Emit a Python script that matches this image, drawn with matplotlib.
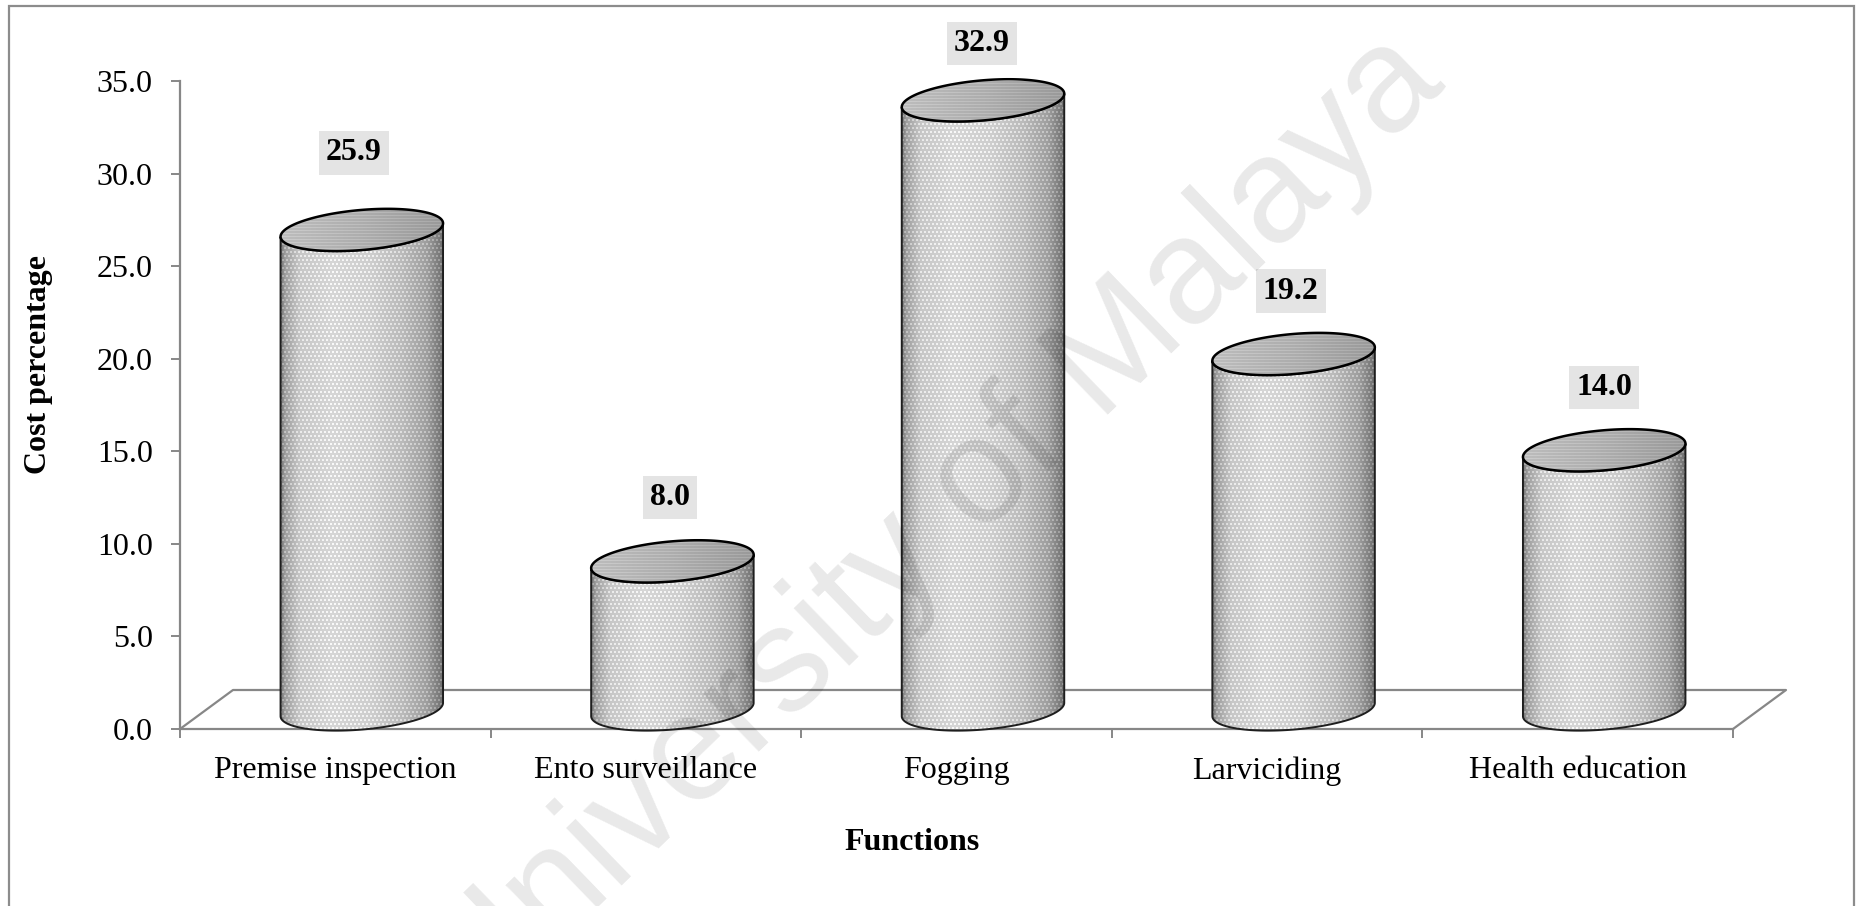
import numpy as np
import matplotlib
matplotlib.use("Agg")
import matplotlib.pyplot as plt
from matplotlib.patches import Polygon, Rectangle
from matplotlib.lines import Line2D
from matplotlib.transforms import IdentityTransform
from matplotlib.ticker import FormatStrFormatter

# ---- data -------------------------------------------------------------
categories = ["Premise inspection", "Ento surveillance", "Fogging",
              "Larviciding", "Health education"]
cost_pct = [25.9, 8.0, 32.9, 19.2, 14.0]
y_ticks = [0.0, 5.0, 10.0, 15.0, 20.0, 25.0, 30.0, 35.0]
y_title = "Cost percentage"
x_title = "Functions"
watermark = "University of Malaya"

# ---- layout / style ---------------------------------------------------
W, H, DPI = 1857, 906, 100
DEPTH = (53.0, 39.0)          # floor depth offset in pixels
BAR_WIDTH = 0.525             # cylinder diameter in category units
CAP_B = 20.0                  # half-height of the elliptical caps (px)
TILT = np.deg2rad(5.0)        # perspective tilt of the caps
LABEL_LIFT = [77, 64, 57, 63, 63]   # px above cap centre
LABEL_SHIFT = [-8, -2, -1, -3, 0]   # px horizontal nudge
GRAY = "#878787"
FS = 23

plt.rcParams["font.family"] = ["Liberation Serif", "DejaVu Serif"]

fig = plt.figure(figsize=(W / DPI, H / DPI), dpi=DPI)
ax = fig.add_axes([180 / W, (H - 729) / H, (1733 - 180) / W, (729 - 81) / H])
n = len(categories)
ax.set_xlim(-0.5, n - 0.5)
ax.set_ylim(0, 35)
ax.patch.set_visible(False)
for s in ("top", "right"):
    ax.spines[s].set_visible(False)
for s in ("left", "bottom"):
    ax.spines[s].set_color(GRAY)
    ax.spines[s].set_linewidth(1.6)

ax.set_yticks(y_ticks)
ax.yaxis.set_major_formatter(FormatStrFormatter("%.1f"))
ax.tick_params(axis="y", length=6.5, width=1.4, color=GRAY, pad=13,
               labelsize=FS)
ax.set_xticks(range(n))
ax.set_xticklabels(categories)
ax.set_xticks(np.arange(-0.5, n), minor=True)
ax.tick_params(axis="x", which="major", length=0, pad=19.5, labelsize=FS)
ax.tick_params(axis="x", which="minor", length=6.5, width=1.4, color=GRAY)

ID = IdentityTransform()


def px(x, y, depth=0.0):
    X, Y = ax.transData.transform((x, y))
    return X + depth * DEPTH[0], Y + depth * DEPTH[1]


# ---- floor outline ----------------------------------------------------
x0, x1 = ax.get_xlim()
floor = [px(x0, 0), px(x0, 0, 1), px(x1, 0, 1), px(x1, 0)]
ax.add_line(Line2D([p[0] for p in floor], [p[1] for p in floor],
                   transform=ID, color=GRAY, lw=1.6, clip_on=False,
                   zorder=1))

# ---- cylinders ---------------------------------------------------------
T = np.linspace(0, 2 * np.pi, 720, endpoint=False)


def ellipse(cx, cy, a):
    ex, ey = a * np.cos(T), CAP_B * np.sin(T)
    return (cx + ex * np.cos(TILT) - ey * np.sin(TILT),
            cy + ex * np.sin(TILT) + ey * np.cos(TILT))


def front_arc(ex, ey):
    il, ir = int(np.argmin(ex)), int(np.argmax(ex))
    k = (ir - il) % len(ex)
    idx = (np.arange(k + 1) + il) % len(ex)
    return ex[idx], ey[idx]


def shaded(xl, xr, yb, yt, cx, half, knots_u, knots_g, kind):
    cols = np.arange(int(np.floor(xl)), int(np.ceil(xr)))
    rows = np.arange(int(np.floor(yb)), int(np.ceil(yt)))[::-1]
    u = np.clip((cols + 0.5 - (cx - half)) / (2 * half), 0, 1)
    base = np.interp(u, knots_u, knots_g)[None, :]
    r = (H - rows)[:, None]
    c = cols[None, :]
    if kind == "body":
        dot = ((r % 4) < 2) & (((c + 2 * ((r // 4) % 2)) % 4) < 2)
        val = base + np.where(dot, 0.12, -0.02)
    else:
        val = base + np.where((r % 3) == 0, 0.06, 0.0) + 0 * c
    val = np.clip(val, 0, 1)
    rgb = np.dstack([val] * 3)
    return rgb, (cols[0], cols[-1] + 1, rows[-1], rows[0] + 1)


BODY_U = [0.0, 0.03, 0.12, 0.32, 0.55, 0.75, 0.90, 1.0]
BODY_G = [0.45, 0.64, 0.80, 0.86, 0.83, 0.75, 0.64, 0.45]
TOP_U = [0.0, 0.5, 1.0]
TOP_G = [0.74, 0.68, 0.60]

for i, v in enumerate(cost_pct):
    cxp, yb = px(i, 0, 0.5)
    _, yt = px(i, v, 0.5)
    half = px(i + BAR_WIDTH / 2, 0)[0] - px(i, 0)[0]

    bx, by = ellipse(cxp, yb, half)
    tx, ty = ellipse(cxp, yt, half)
    tfx, tfy = front_arc(tx, ty)
    bfx, bfy = front_arc(bx, by)
    body_xy = np.column_stack([np.r_[tfx, bfx[::-1]], np.r_[tfy, bfy[::-1]]])
    body = Polygon(body_xy, closed=True, transform=ID, facecolor="none",
                   edgecolor="#1e1e1e", lw=1.4, clip_on=False, zorder=4)
    ax.add_patch(body)

    rgb, ext = shaded(tx.min() - 1, tx.max() + 1, by.min() - 1, ty.max() + 1,
                      cxp, half, BODY_U, BODY_G, "body")
    im = ax.imshow(rgb, extent=ext, origin="upper", transform=ID,
                   interpolation="nearest", aspect="auto", zorder=3)
    im.set_clip_path(body)
    im.set_clip_box(None)

    cap = Polygon(np.column_stack([tx, ty]), closed=True, transform=ID,
                  facecolor="none", edgecolor="black", lw=1.8,
                  clip_on=False, zorder=6)
    ax.add_patch(cap)
    rgb, ext = shaded(tx.min() - 1, tx.max() + 1, ty.min() - 1, ty.max() + 1,
                      cxp, half, TOP_U, TOP_G, "top")
    im = ax.imshow(rgb, extent=ext, origin="upper", transform=ID,
                   interpolation="nearest", aspect="auto", zorder=5)
    im.set_clip_path(cap)
    im.set_clip_box(None)

    ax.text(cxp + LABEL_SHIFT[i], yt + LABEL_LIFT[i], f"{v:.1f}",
            transform=ID, ha="center", va="center", fontsize=FS,
            fontweight="bold", zorder=7, clip_on=False,
            bbox=dict(boxstyle="square,pad=0.22", fc="#e4e4e4", ec="none"))

ax.set_xlim(-0.5, n - 0.5)
ax.set_ylim(0, 35)

# ---- axis titles -------------------------------------------------------
fig.text(39 / W, (H - 365) / H, y_title, rotation=90, ha="center",
         va="center", fontsize=FS, fontweight="bold")
fig.text(912 / W, (H - 842) / H, x_title, ha="center", va="center",
         fontsize=FS, fontweight="bold")

# ---- chart border ------------------------------------------------------
fig.add_artist(Rectangle((9 / W, -0.02), (1854 - 9) / W, (H - 6) / H + 0.02,
                         transform=fig.transFigure, fill=False,
                         edgecolor="#8c8c8c", lw=1.6))

# ---- watermark ---------------------------------------------------------
fig.text(935 / W, (H - 528) / H, watermark, rotation=44,
         rotation_mode="anchor", ha="center", va="center", fontsize=108,
         family=["Liberation Sans", "DejaVu Sans"], color="black",
         alpha=0.09, zorder=10)

fig.savefig("out.png", dpi=DPI)
